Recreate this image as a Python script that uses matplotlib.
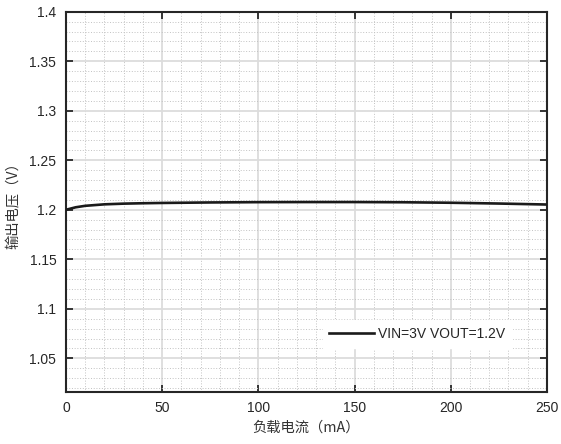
import matplotlib
matplotlib.use("Agg")
import matplotlib.pyplot as plt
from matplotlib.ticker import MultipleLocator, FuncFormatter

plt.rcParams['font.family'] = ['Liberation Sans', 'Noto Sans CJK SC', 'DejaVu Sans']

# Load current (mA) vs. output voltage (V)
load_current = [0, 5, 10, 20, 30, 40, 50, 75, 100, 125, 150, 175, 200, 225, 250]
output_voltage = [1.2000, 1.2025, 1.2040, 1.2055, 1.2062, 1.2066, 1.2069, 1.2074,
                  1.2077, 1.2078, 1.2078, 1.2076, 1.2071, 1.2063, 1.2053]
series_label = "VIN=3V VOUT=1.2V"
x_label = "负载电流（mA）"
y_label = "输出电压（V）"

fig = plt.figure(figsize=(5.61, 4.44), dpi=100)
ax = fig.add_axes([0.1176, 0.1178, 0.975 - 0.1176, 0.9736 - 0.1178])

ax.plot(load_current, output_voltage, color='#1a1a1a', lw=1.9, label=series_label, zorder=3)

ax.set_xlim(0, 250)
ax.set_ylim(1.0163, 1.4)
ax.xaxis.set_major_locator(MultipleLocator(50))
ax.xaxis.set_minor_locator(MultipleLocator(10))
ax.yaxis.set_major_locator(MultipleLocator(0.05))
ax.yaxis.set_minor_locator(MultipleLocator(0.01))
ax.yaxis.set_major_formatter(FuncFormatter(lambda v, p: f"{v:.2f}".rstrip('0').rstrip('.')))

ax.grid(which='major', color='#dcdcdc', lw=1.3, ls='-', zorder=0)
ax.grid(which='minor', color='#c2c2c2', lw=0.7, ls=(0, (1, 1.8)), zorder=0)
ax.set_axisbelow(True)

ax.tick_params(which='major', direction='in', length=5, width=1.3, color='#262626',
               top=True, right=True, labelsize=10, labelcolor='#262626', pad=7)
ax.tick_params(which='minor', length=0, top=True, right=True)
for s in ax.spines.values():
    s.set_color('#262626')
    s.set_linewidth(1.5)

cjk = ['Noto Sans CJK SC', 'DejaVu Sans']
ax.set_xlabel(x_label, fontsize=10.3, color='#333333', family=cjk, labelpad=4)
ax.set_ylabel(y_label, fontsize=10.3, color='#333333', family=cjk, labelpad=6)

leg = ax.legend(loc='lower right', bbox_to_anchor=(0.942, 0.097), fontsize=10, frameon=True,
                fancybox=False, framealpha=1, edgecolor='white', handlelength=3.2,
                handletextpad=0.3, borderpad=0.5)
for t in leg.get_texts():
    t.set_color('#262626')

fig.savefig("out.png", dpi=100)
